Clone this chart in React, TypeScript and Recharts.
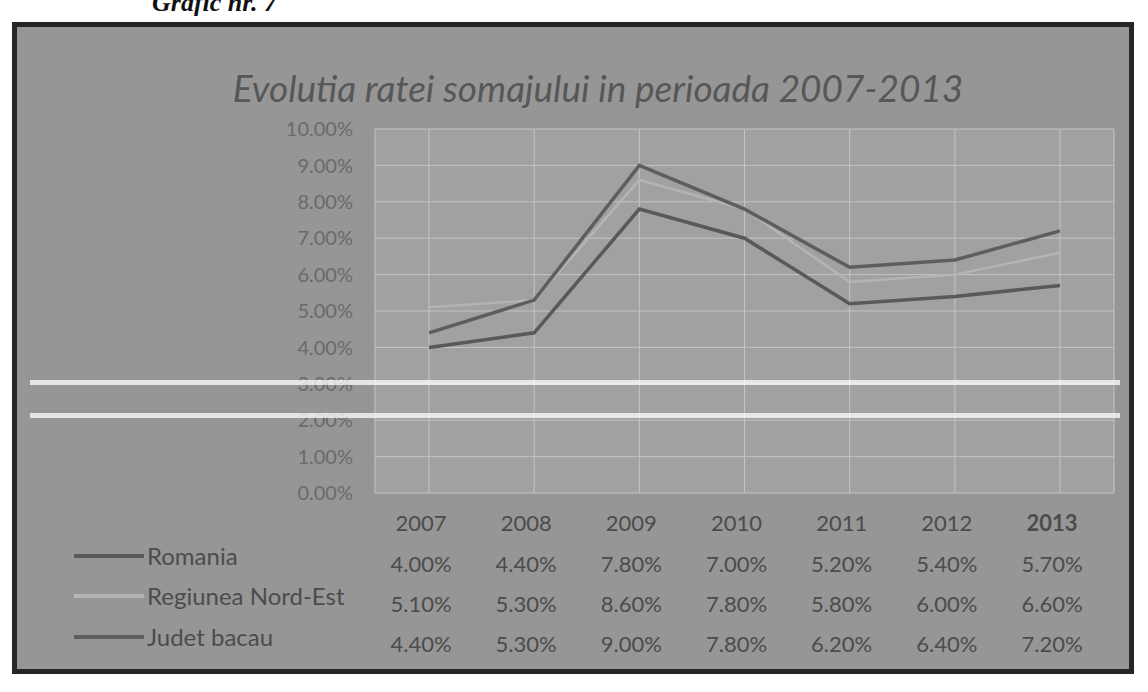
import React from "react";
import { LineChart, Line, XAxis, YAxis, CartesianGrid } from "recharts";

const years = ["2007", "2008", "2009", "2010", "2011", "2012", "2013"];
const romania = [4.0, 4.4, 7.8, 7.0, 5.2, 5.4, 5.7];
const regiunea = [5.1, 5.3, 8.6, 7.8, 5.8, 6.0, 6.6];
const judet = [4.4, 5.3, 9.0, 7.8, 6.2, 6.4, 7.2];
const yTicks = [0, 1, 2, 3, 4, 5, 6, 7, 8, 9, 10];
const seriesNames = ["Romania", "Regiunea Nord-Est", "Judet bacau"];
const title = "Evolutia ratei somajului in perioada 2007-2013";

const data = years.map((y, i) => ({
  year: y,
  romania: romania[i],
  regiunea: regiunea[i],
  judet: judet[i],
}));

const FONT = "Lato, 'Open Sans', sans-serif";
const TEXT = "#4c4c4c";

const fmt = (v: number) => `${v.toFixed(2)}%`;

const TableTick = (props: any) => {
  const { x, y, payload, index } = props;
  const cols = [romania, regiunea, judet];
  const cx = x - 8;
  return (
    <g>
      <text x={cx} y={y + 29} textAnchor="middle" dominantBaseline="central" fontSize={22} fill={TEXT} fontFamily={FONT} fontWeight={index === 6 ? 700 : 400}>
        {payload.value}
      </text>
      {cols.map((arr, r) => (
        <text key={r} x={cx} y={y + 70 + r * 40} textAnchor="middle" dominantBaseline="central" fontSize={22} fill={TEXT} fontFamily={FONT}>
          {fmt(arr[index])}
        </text>
      ))}
    </g>
  );
};

export default function App() {
  const keyColors = ["#595959", "#b4b4b4", "#5e5e5e"];
  const labelY = [556, 596, 637];
  return (
    <div style={{ position: "absolute", left: 0, top: 0, width: 1148, height: 692, background: "#fff", overflow: "hidden" }}>
      <div style={{ position: "absolute", left: 152, top: -12, fontFamily: "'Liberation Serif', serif", fontStyle: "italic", fontWeight: 700, fontSize: 26, color: "#111" }}>
        Grafic nr. 7
      </div>
      <div style={{ position: "absolute", left: 12, top: 22, width: 1122, height: 652, background: "#969696", border: "5px solid #262626", boxSizing: "border-box" }} />
      <div style={{ position: "absolute", left: 0, top: 65, width: 1196, textAlign: "center", fontFamily: FONT, fontStyle: "italic", fontSize: 37, color: "#575757" }}>
        {title}
      </div>
      <div style={{ position: "absolute", left: 0, top: 0 }}>
        <LineChart width={1148} height={692} data={data} margin={{ top: 129, right: 34, bottom: 19, left: 315 }}>
          <CartesianGrid fill="#a1a1a1" stroke="#c4c4c4" strokeWidth={1} vertical={true} />
          <XAxis dataKey="year" height={180} axisLine={false} tickLine={false} tickSize={0} tickMargin={0} tick={<TableTick />} interval={0} padding={{ left: 54, right: 54 }} />
          <YAxis width={60} domain={[0, 10]} ticks={yTicks} tickFormatter={fmt} axisLine={false} tickLine={false} tickSize={0} tickMargin={22} tick={{ fontSize: 20, fill: "#6a6a6a", fontFamily: FONT }} />
          <Line type="linear" dataKey="regiunea" stroke="#b4b4b4" strokeWidth={2.5} dot={false} isAnimationActive={false} />
          <Line type="linear" dataKey="romania" stroke="#595959" strokeWidth={3.5} dot={false} isAnimationActive={false} />
          <Line type="linear" dataKey="judet" stroke="#5e5e5e" strokeWidth={3.5} dot={false} isAnimationActive={false} />
        </LineChart>
      </div>
      <div style={{ position: "absolute", left: 30, top: 380, width: 1090, height: 5, background: "rgba(255,255,255,0.75)" }} />
      <div style={{ position: "absolute", left: 30, top: 413, width: 1090, height: 5, background: "rgba(255,255,255,0.75)" }} />
      {seriesNames.map((n, i) => (
        <React.Fragment key={n}>
          <div style={{ position: "absolute", left: 74, top: labelY[i] - 2, width: 70, height: 4, background: keyColors[i] }} />
          <div style={{ position: "absolute", left: 147, top: labelY[i] - 15, fontFamily: FONT, fontSize: 24, color: TEXT, lineHeight: "30px" }}>
            {n}
          </div>
        </React.Fragment>
      ))}
    </div>
  );
}
